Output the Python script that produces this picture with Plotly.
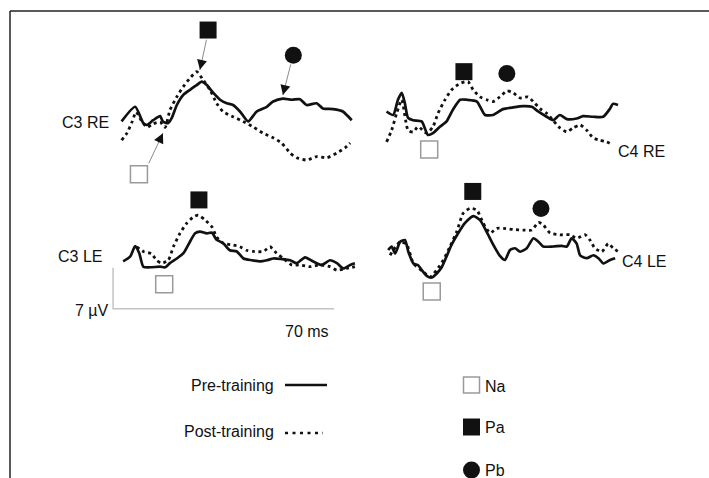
import plotly.graph_objects as go

# ---------------- data (time in ms, amplitude in µV) ----------------
c3re_pre_t = [0.5, 4.8, 7.4, 8.5, 10.5, 12.7, 13.6, 15.2, 16.4, 18.0, 20.0, 22.2, 24.3, 25.9, 27.5, 29.5, 31.7, 33.8, 35.8, 38.0, 40.6, 43.3, 46.5, 48.5, 51.6, 54.4, 57.0, 59.1, 62.3, 64.3, 67.5, 70.6, 73.4]
c3re_pre_uv = [0.1, 2.6, -0.2, -0.5, 0.3, 1.0, 0.1, -0.2, 0.7, 2.9, 4.6, 5.5, 6.3, 6.9, 6.3, 5.0, 3.8, 3.2, 2.9, 1.8, 0.1, 1.8, 2.6, 3.5, 4.0, 3.8, 3.9, 2.9, 3.2, 2.3, 2.2, 1.8, 0.3]
c3re_post_t = [0.5, 2.2, 3.8, 5.1, 6.7, 8.6, 10.5, 12.7, 14.3, 15.8, 18.0, 20.0, 22.2, 24.3, 26.3, 28.5, 30.6, 32.6, 35.8, 39.0, 42.1, 45.3, 48.5, 51.2, 53.9, 56.0, 59.1, 62.3, 65.5, 68.7, 71.3, 72.9]
c3re_post_uv = [-3.1, -1.9, 0.0, 1.7, 0.3, -0.9, -0.3, 0.0, -0.9, 2.0, 4.3, 6.0, 7.5, 8.6, 7.2, 5.5, 3.2, 1.8, 0.9, 0.1, -0.8, -1.9, -2.7, -3.6, -5.3, -6.1, -6.5, -5.9, -6.1, -5.3, -4.4, -3.6]

c4re_pre_t = [0.5, 2.6, 4.1, 5.3, 6.3, 7.3, 8.9, 11.6, 13.6, 15.2, 17.4, 19.5, 21.5, 23.8, 25.9, 29.1, 31.7, 34.2, 37.4, 40.6, 43.7, 46.5, 48.5, 51.2, 53.2, 55.4, 57.6, 60.7, 62.7, 65.9, 69.1, 71.3, 72.2, 73.8]
c4re_pre_uv = [0.6, 0.0, 2.6, 3.8, 2.0, -0.5, -0.9, -1.1, -3.4, -3.1, -2.0, -1.1, 0.9, 2.6, 2.6, 2.3, 0.0, 0.0, 1.0, 1.3, 1.5, 1.4, 0.6, -0.3, -0.9, 0.0, -0.7, -0.6, -0.2, -0.3, -0.3, 1.1, 1.9, 1.7]
c4re_post_t = [0.5, 2.1, 3.7, 5.3, 7.3, 8.9, 10.5, 13.2, 15.2, 16.8, 19.0, 21.1, 23.8, 26.3, 27.9, 30.1, 32.2, 34.2, 36.4, 38.6, 40.6, 42.8, 45.3, 46.9, 49.1, 51.2, 53.2, 55.4, 57.6, 59.6, 61.8, 63.9, 65.9, 68.1, 70.2, 72.2]
c4re_post_uv = [-4.6, -2.6, 0.3, 2.6, -2.6, -2.9, -2.0, -3.1, -2.0, 0.3, 2.6, 4.3, 5.4, 5.7, 4.3, 3.1, 2.6, 2.3, 3.1, 4.1, 3.8, 2.9, 3.1, 2.3, 1.1, 0.3, -0.9, -2.2, -2.9, -2.2, -1.7, -2.6, -3.9, -4.3, -4.6, -5.1]

c3le_pre_t = [1.0, 3.2, 4.8, 6.1, 7.4, 9.5, 12.7, 14.3, 15.8, 18.0, 20.1, 22.2, 23.8, 25.3, 27.5, 29.1, 30.6, 32.7, 34.8, 37.0, 39.1, 41.7, 44.4, 46.5, 48.6, 51.2, 53.9, 56.0, 58.6, 61.2, 63.9, 66.5, 68.7, 70.7, 72.9, 74.4]
c3le_pre_uv = [0.1, 0.9, 2.7, 1.5, -0.8, -0.9, -0.8, -0.9, -0.2, 0.6, 1.5, 3.5, 4.9, 5.2, 4.9, 5.0, 3.8, 3.2, 2.0, 1.8, 0.6, 0.3, 0.1, 0.3, 0.6, 0.5, 0.3, -0.2, 0.8, 0.1, -0.5, 0.3, -0.2, -1.1, -0.5, -0.2]
c3le_post_t = [5.3, 7.4, 10.0, 11.6, 13.2, 15.3, 16.9, 19.0, 21.1, 23.2, 24.8, 26.9, 29.1, 30.6, 32.7, 35.9, 38.0, 40.1, 42.2, 45.4, 47.5, 49.6, 51.7, 54.4, 57.0, 60.2, 63.4, 66.5, 68.7, 71.8, 74.4]
c3le_post_uv = [2.6, 1.8, 1.4, 0.3, -0.2, 0.3, 2.6, 4.9, 6.6, 7.7, 8.0, 7.2, 6.0, 4.3, 3.2, 2.9, 2.6, 2.0, 1.8, 1.8, 2.6, 1.5, 0.6, -0.5, -0.5, -0.8, -0.5, -0.8, -1.4, -1.1, -0.8]

c4le_pre_t = [1.0, 2.1, 3.2, 4.8, 6.3, 7.4, 9.0, 10.5, 11.6, 13.2, 14.8, 16.4, 18.0, 19.5, 21.1, 23.2, 25.3, 28.0, 30.1, 32.2, 34.3, 36.4, 38.0, 39.6, 41.2, 42.8, 44.9, 47.0, 48.6, 50.1, 53.3, 56.0, 57.6, 59.1, 60.7, 61.8, 63.9, 66.0, 67.6, 69.2, 71.3, 72.9]
c4le_pre_uv = [0.0, 0.6, -0.6, 1.4, 1.7, -0.3, -2.3, -2.6, -3.4, -4.4, -4.7, -4.0, -2.9, -1.1, 0.9, 2.9, 4.6, 5.8, 5.1, 3.1, 0.9, -1.0, -1.7, 0.0, 0.3, -0.3, 0.3, 2.0, 1.4, 0.6, 0.6, 0.7, 0.6, 2.0, 1.1, -0.9, -1.4, -0.9, -1.4, -2.3, -1.7, -1.4]
c4le_post_t = [1.6, 4.8, 6.9, 9.0, 12.1, 14.3, 16.4, 18.5, 20.6, 22.7, 24.8, 26.9, 29.1, 31.1, 33.3, 35.4, 37.5, 40.6, 43.8, 46.5, 48.6, 50.1, 52.3, 55.4, 58.6, 60.7, 63.4, 64.9, 66.5, 68.7, 70.7, 72.3, 73.9]
c4le_post_uv = [-0.9, 1.4, 0.9, -2.3, -3.7, -4.6, -3.4, -1.7, 0.6, 3.1, 6.3, 7.1, 6.8, 4.6, 2.9, 3.7, 3.7, 3.5, 3.4, 3.4, 4.7, 4.3, 2.9, 2.6, 2.6, 2.0, 2.6, 1.7, 0.3, -0.3, 1.1, 0.3, -0.3]

# component markers (t ms, µV) per panel
c3re_na, c3re_pa, c3re_pb = (6.0, -8.9), (27.9, 15.7), (54.9, 11.4)
c3re_na_peak, c3re_pa_peak, c3re_pb_peak = (13.6, -1.9), (25.3, 8.9), (51.6, 4.6)
c3re_na_tail, c3re_pa_tail, c3re_pb_tail = (8.9, -7.3), (27.5, 14.3), (54.2, 10.1)
c4re_na, c4re_pa, c4re_pb = (14.0, -5.9), (25.0, 7.4), (38.6, 7.1)
c3le_na, c3le_pa = (14.0, -3.8), (25.0, 10.6)
c4le_na, c4le_pa, c4le_pb = (14.8, -7.1), (27.8, 10.0), (49.4, 7.1)

scale_ms = 70
scale_uv = 7

panel_labels = ["C3 RE", "C4 RE", "C3 LE", "C4 LE"]
legend_lines = ["Pre-training", "Post-training"]
legend_markers = ["Na", "Pa", "Pb"]

# ---------------- layout geometry (pixels) ----------------
W, H = 709, 478
PX_MS = 221 / 70.0
PX_UV = 41 / 7.0
FONT = "Liberation Sans, Arial, sans-serif"
INK = "#111111"
FS = 16


def px(x):
    return x / W


def py(y):
    return 1 - y / H


# panel: origin (x0 px at t=0, ybase px at 0 µV) and box (left, top, right, bottom)
panels = [
    dict(x0=120, yb=122, box=(100, 15, 370, 195)),
    dict(x0=385, yb=115, box=(372, 45, 650, 175)),
    dict(x0=120, yb=262, box=(100, 185, 370, 325)),
    dict(x0=385, yb=250, box=(372, 175, 650, 310)),
]

fig = go.Figure()
layout_axes = {}
for i, p in enumerate(panels, start=1):
    l, t, r, b = p["box"]
    xname = "xaxis" if i == 1 else f"xaxis{i}"
    yname = "yaxis" if i == 1 else f"yaxis{i}"
    layout_axes[xname] = dict(domain=[px(l), px(r)], range=[(l - p["x0"]) / PX_MS, (r - p["x0"]) / PX_MS],
                              visible=False, anchor=f"y{i}" if i > 1 else "y", fixedrange=True)
    layout_axes[yname] = dict(domain=[py(b), py(t)], range=[(p["yb"] - b) / PX_UV, (p["yb"] - t) / PX_UV],
                              visible=False, anchor=f"x{i}" if i > 1 else "x", fixedrange=True)


def ax_ids(i):
    return ("x", "y") if i == 1 else (f"x{i}", f"y{i}")


waves = [
    (c3re_pre_t, c3re_pre_uv, c3re_post_t, c3re_post_uv),
    (c4re_pre_t, c4re_pre_uv, c4re_post_t, c4re_post_uv),
    (c3le_pre_t, c3le_pre_uv, c3le_post_t, c3le_post_uv),
    (c4le_pre_t, c4le_pre_uv, c4le_post_t, c4le_post_uv),
]
for i, (pt, pv, qt, qv) in enumerate(waves, start=1):
    xa, ya = ax_ids(i)
    fig.add_trace(go.Scatter(x=qt, y=qv, mode="lines", xaxis=xa, yaxis=ya, cliponaxis=False,
                             line=dict(color=INK, width=2.8, dash="3px,3.5px", shape="spline", smoothing=0.6),
                             showlegend=False, hoverinfo="skip"))
    fig.add_trace(go.Scatter(x=pt, y=pv, mode="lines", xaxis=xa, yaxis=ya, cliponaxis=False,
                             line=dict(color=INK, width=2.7, shape="spline", smoothing=0.6),
                             showlegend=False, hoverinfo="skip"))

markers = [
    (c3re_na, c3re_pa, c3re_pb),
    (c4re_na, c4re_pa, c4re_pb),
    (c3le_na, c3le_pa, None),
    (c4le_na, c4le_pa, c4le_pb),
]
MSIZE = 17
for i, (na, pa, pb) in enumerate(markers, start=1):
    xa, ya = ax_ids(i)
    fig.add_trace(go.Scatter(x=[na[0]], y=[na[1]], mode="markers", xaxis=xa, yaxis=ya, cliponaxis=False,
                             marker=dict(symbol="square", size=MSIZE, color="white", line=dict(color="#9a9a9a", width=1.5)),
                             showlegend=False, hoverinfo="skip"))
    fig.add_trace(go.Scatter(x=[pa[0]], y=[pa[1]], mode="markers", xaxis=xa, yaxis=ya, cliponaxis=False,
                             marker=dict(symbol="square", size=MSIZE, color=INK, line=dict(width=0)),
                             showlegend=False, hoverinfo="skip"))
    if pb is not None:
        fig.add_trace(go.Scatter(x=[pb[0]], y=[pb[1]], mode="markers", xaxis=xa, yaxis=ya, cliponaxis=False,
                                 marker=dict(symbol="circle", size=MSIZE, color=INK, line=dict(width=0)),
                                 showlegend=False, hoverinfo="skip"))

# scale bar in C3 LE panel
sb_t, sb_v = -2.2, -8.0
fig.add_trace(go.Scatter(x=[sb_t, sb_t, sb_t + scale_ms], y=[sb_v + scale_uv, sb_v, sb_v], mode="lines",
                         xaxis="x3", yaxis="y3", cliponaxis=False, line=dict(color="#c4c4c4", width=1.5),
                         showlegend=False, hoverinfo="skip"))

annotations = []
# arrows in C3 RE
for tail, tip in [(c3re_na_tail, c3re_na_peak), (c3re_pa_tail, c3re_pa_peak), (c3re_pb_tail, c3re_pb_peak)]:
    annotations.append(dict(x=tip[0], y=tip[1], ax=tail[0], ay=tail[1], xref="x", yref="y", axref="x", ayref="y",
                            text="", showarrow=True, arrowhead=0, arrowwidth=1, arrowcolor="#8a8a8a", standoff=0))
    f = 0.33
    annotations.append(dict(x=tip[0], y=tip[1], ax=tip[0] + f * (tail[0] - tip[0]), ay=tip[1] + f * (tail[1] - tip[1]),
                            xref="x", yref="y", axref="x", ayref="y", text="", showarrow=True, arrowhead=2,
                            arrowsize=2, arrowwidth=1, arrowcolor=INK, standoff=0))


def label(text, x, y, xanchor="left", size=FS):
    annotations.append(dict(text=text, x=px(x), y=py(y), xref="paper", yref="paper", xanchor=xanchor,
                            yanchor="middle", showarrow=False, font=dict(family=FONT, size=size, color=INK)))


label(panel_labels[0], 60, 122.5)
label(panel_labels[1], 616, 151.5)
label(panel_labels[2], 56, 256.5)
label(panel_labels[3], 620, 261)
label("7 µV", 111, 310, xanchor="right")
label("70 ms", 283, 331)
label(legend_lines[0], 276, 385, xanchor="right")
label(legend_lines[1], 276, 431, xanchor="right")
label(legend_markers[0], 482.5, 386)
label(legend_markers[1], 482.5, 427)
label(legend_markers[2], 482.5, 470)

shapes = [
    dict(type="line", xref="paper", yref="paper", x0=px(10), x1=px(709), y0=py(11), y1=py(11),
         line=dict(color="#222", width=1.5)),
    dict(type="line", xref="paper", yref="paper", x0=px(10), x1=px(10), y0=py(11), y1=py(478),
         line=dict(color="#222", width=1.5)),
    dict(type="line", xref="paper", yref="paper", x0=px(285), x1=px(327), y0=py(385), y1=py(385),
         line=dict(color=INK, width=2.5)),
    dict(type="line", xref="paper", yref="paper", x0=px(285), x1=px(323), y0=py(433), y1=py(433),
         line=dict(color=INK, width=2.6, dash="3px,4.5px")),
    dict(type="rect", xref="paper", yref="paper", x0=px(463.5), x1=px(479.5), y0=py(393), y1=py(377),
         line=dict(color="#9a9a9a", width=1.5), fillcolor="white"),
    dict(type="rect", xref="paper", yref="paper", x0=px(463), x1=px(480), y0=py(435.5), y1=py(418.5),
         line=dict(width=0), fillcolor=INK),
    dict(type="circle", xref="paper", yref="paper", x0=px(463), x1=px(480), y0=py(478.5), y1=py(461.5),
         line=dict(width=0), fillcolor=INK),
]

fig.update_layout(width=W, height=H, autosize=False, margin=dict(l=0, r=0, t=0, b=0),
                  paper_bgcolor="white", plot_bgcolor="white", showlegend=False,
                  annotations=annotations, shapes=shapes, **layout_axes)

fig.write_html("out.html", config=dict(displayModeBar=False),
               post_script="document.body.style.margin='0';document.body.style.overflow='hidden';")
